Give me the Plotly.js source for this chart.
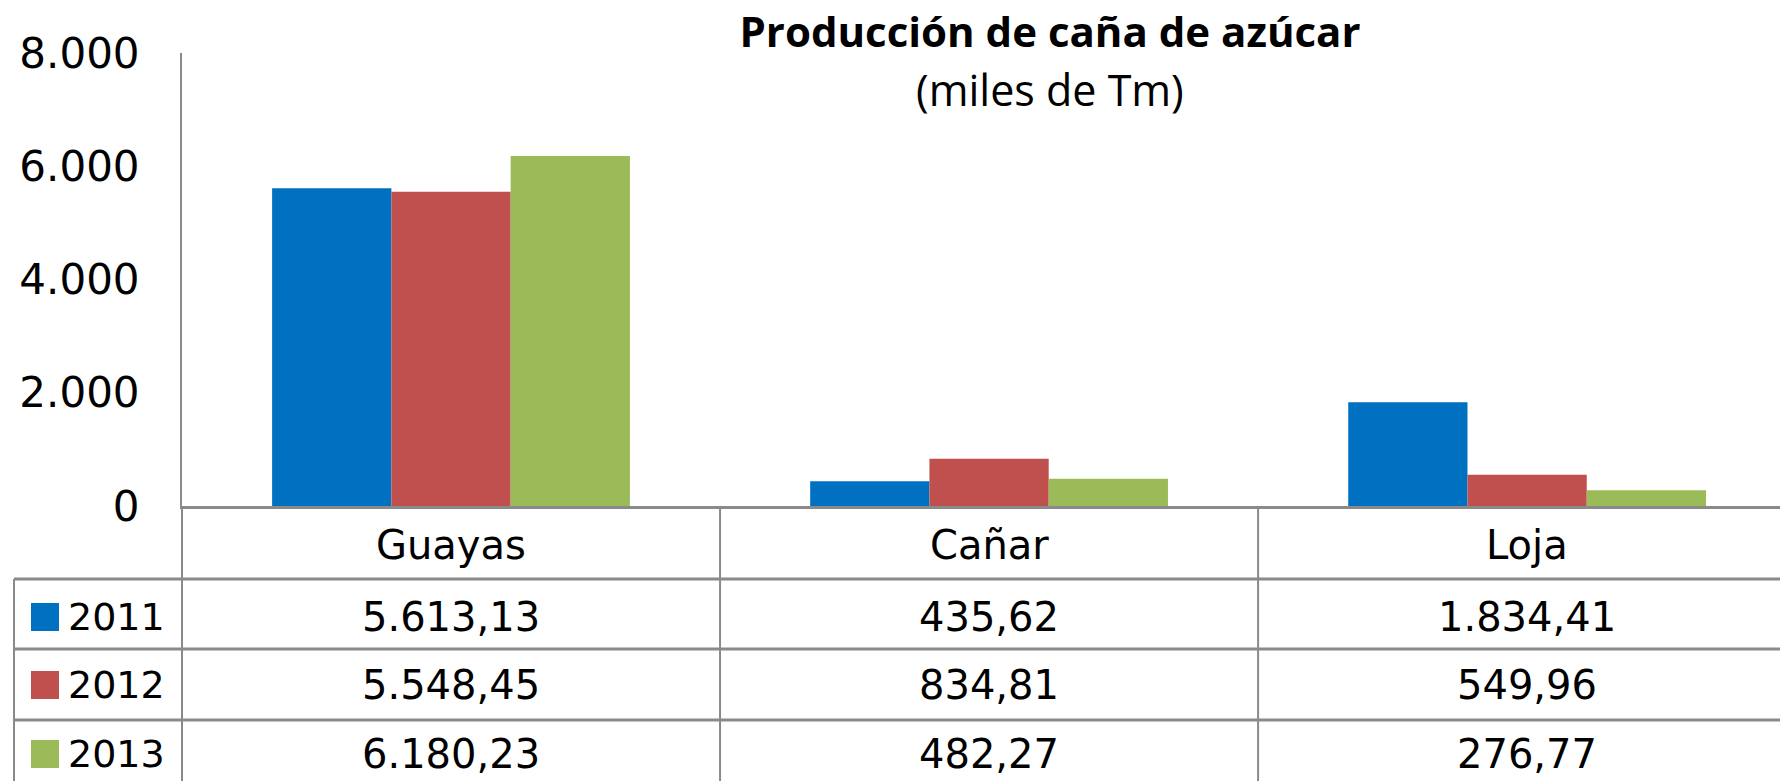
<!DOCTYPE html>
<html>
<head>
<meta charset="utf-8">
<script src="https://cdn.plot.ly/plotly-3.0.1.min.js"></script>
<style>html,body{margin:0;padding:0;background:#fff;}</style>
</head>
<body>
<div id="chart" style="width:1780px;height:781px;"></div>
<script>
// ---- data ----
const categories = ['Guayas', 'Cañar', 'Loja'];
const years = ['2011', '2012', '2013'];
const v2011 = [5613.13, 435.62, 1834.41];
const v2012 = [5548.45, 834.81, 549.96];
const v2013 = [6180.23, 482.27, 276.77];
const yTickVals = [0, 2000, 4000, 6000, 8000];
const chartTitle = 'Producción de caña de azúcar';
const chartSubtitle = '(miles de Tm)';

// ---- style ----
const seriesValues = [v2011, v2012, v2013];
const colors = ['#0070C0', '#C0504D', '#9BBB59'];
const FONT = 'DejaVu Sans, Open Sans, sans-serif';
const TFONT = 'Open Sans, Noto Sans, sans-serif';
const GRID = '#8a8a8a';
const W = 1780, H = 781;
const ML = 182, MT = 53, MB = 275;
const PW = W - ML, PH = H - MT - MB;
const px = X => (X - ML) / PW;          // pixel x -> paper x
const py = Y => (H - MB - Y) / PH;      // pixel y -> paper y

function fmt(v) {
  const parts = v.toFixed(2).split('.');
  const i = parts[0].replace(/\B(?=(\d{3})+(?!\d))/g, '.');
  return i + ',' + parts[1];
}

const traces = years.map((yr, k) => ({
  type: 'bar',
  name: yr,
  x: categories,
  y: seriesValues[k],
  marker: {color: colors[k], line: {width: 0}},
  hoverinfo: 'x+y+name'
}));

// table geometry (pixels)
const rowLines = [579, 649, 720];
const rowCenters = [617, 685, 754];
const catCenter = 545;
const tableLeft = 14;

const shapes = [];
shapes.push({type: 'line', xref: 'paper', yref: 'paper', x0: 0, x1: 0, y0: 0, y1: py(H + 5), line: {color: GRID, width: 2}});
for (let i = 0; i < categories.length - 1; i++) {
  shapes.push({type: 'line', xref: 'x', yref: 'paper', x0: i + 0.5, x1: i + 0.5, y0: 0, y1: py(H + 5), line: {color: GRID, width: 2}});
}
shapes.push({type: 'line', xref: 'paper', yref: 'paper', x0: px(tableLeft), x1: px(tableLeft), y0: py(rowLines[0]), y1: py(H + 5), line: {color: GRID, width: 2}});
rowLines.forEach(Y => shapes.push({type: 'line', xref: 'paper', yref: 'paper', x0: px(tableLeft), x1: 1, y0: py(Y), y1: py(Y), line: {color: GRID, width: 3}}));
years.forEach((yr, k) => {
  const c = rowCenters[k];
  shapes.push({type: 'rect', xref: 'paper', yref: 'paper', x0: px(31), x1: px(59), y0: py(c - 14), y1: py(c + 14), fillcolor: colors[k], line: {width: 0}});
});

const annotations = [];
annotations.push({xref: 'paper', yref: 'paper', x: px(1050), y: py(90), text: chartSubtitle, showarrow: false, xanchor: 'center', yanchor: 'middle', font: {family: TFONT, size: 43, color: '#000'}});
categories.forEach((c, i) => {
  annotations.push({xref: 'x', yref: 'paper', x: c, y: py(catCenter), text: c, showarrow: false, xanchor: 'center', yanchor: 'middle', font: {family: FONT, size: 40, color: '#000'}});
});
years.forEach((yr, k) => {
  annotations.push({xref: 'paper', yref: 'paper', x: px(66), y: py(rowCenters[k]), text: yr, showarrow: false, xanchor: 'left', yanchor: 'middle', font: {family: FONT, size: 38, color: '#000'}});
  categories.forEach((c, i) => {
    annotations.push({xref: 'x', yref: 'paper', x: c, y: py(rowCenters[k]), text: fmt(seriesValues[k][i]), showarrow: false, xanchor: 'center', yanchor: 'middle', font: {family: FONT, size: 40, color: '#000'}});
  });
});

const layout = {
  width: W, height: H,
  margin: {l: ML, r: 0, t: MT, b: MB, pad: 0},
  paper_bgcolor: '#fff', plot_bgcolor: '#fff',
  separators: ',.',
  showlegend: false,
  barmode: 'group',
  bargap: 0.335,
  bargroupgap: 0,
  title: {
    text: '<b>' + chartTitle + '</b>',
    xref: 'container', yref: 'container',
    x: 1050 / W, xanchor: 'center',
    y: 1 - 32 / H, yanchor: 'middle',
    font: {family: TFONT, size: 42, color: '#000'}
  },
  xaxis: {
    type: 'category',
    range: [-0.5, 2.47],
    showticklabels: false,
    ticks: '',
    showgrid: false,
    zeroline: false,
    showline: true, linecolor: GRID, linewidth: 3,
    fixedrange: true
  },
  yaxis: {
    range: [0, 8000],
    tickvals: yTickVals,
    tickformat: ',d',
    ticks: '',
    ticklabelstandoff: 32,
    showgrid: false,
    zeroline: false,
    showline: true, linecolor: GRID, linewidth: 2,
    tickfont: {family: FONT, size: 42, color: '#000'},
    fixedrange: true
  },
  shapes: shapes,
  annotations: annotations
};

Plotly.newPlot('chart', traces, layout, {displayModeBar: false, staticPlot: true});
</script>
</body>
</html>
